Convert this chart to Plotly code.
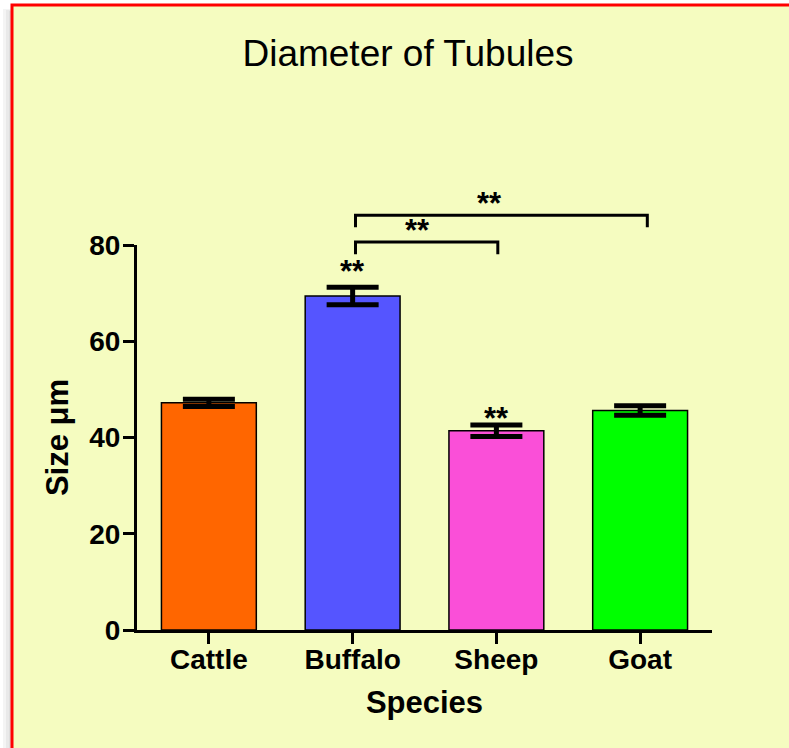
import plotly.graph_objects as go

# ---- data ----
species = ["Cattle", "Buffalo", "Sheep", "Goat"]
size_um = [47.2, 69.4, 41.4, 45.6]
sem = [0.75, 1.8, 1.2, 1.0]
bar_colors = ["#FF6600", "#5555FF", "#FA4FD8", "#00FF00"]
y_ticks = [0, 20, 40, 60, 80]

# significance marks: bars marked vs. control (index, label level) and brackets (a, b, height)
star_label = "**"
star_bars = [(1, 72.9), (2, 42.4)]
brackets = [(1, 2, 80.6), (1, 3, 86.2)]

# ---- layout geometry (pixels) ----
W, H = 789, 748
L, R, T, B = 137, 77, 245, 118
YMAX = 80
plot_w = W - L - R
plot_h = H - T - B
FONT = "Arial, Liberation Sans, sans-serif"
NCAT = len(species)

def px_x(p):
    return (p - L) / plot_w

def px_y(p):
    return (H - B - p) / plot_h

def dx(c):
    return (c + 0.5) / NCAT

def dy(v):
    return v / YMAX

fig = go.Figure()
fig.add_trace(go.Bar(
    x=species, y=size_um,
    marker=dict(color=bar_colors, line=dict(color="black", width=1.5)),
    width=0.66,
    error_y=dict(type="data", array=sem, visible=True, color="black",
                 thickness=5, width=26),
    cliponaxis=False,
))

shapes = []
# background panel with red border
for i, g in enumerate(["#f4f4f4", "#e9e9e9", "#dedede"]):
    shapes.append(dict(type="rect", xref="paper", yref="paper", layer="below",
                       x0=px_x(3 + 3 * i), x1=px_x(12), y0=px_y(H + 20), y1=px_y(9 + i),
                       line=dict(width=0), fillcolor=g))
shapes.append(dict(type="rect", xref="paper", yref="paper", layer="below",
                   x0=px_x(12), x1=px_x(W + 20), y0=px_y(H + 20), y1=px_y(5),
                   line=dict(color="#FF0000", width=3), fillcolor="#F5FCC0"))

# brackets
offs = {1: 0.02, 2: 0.01, 3: 0.05}
drop = 2.5
for a, b, h in brackets:
    xa = dx(a + offs[a])
    xb = dx(b + offs[b])
    shapes.append(dict(type="path", xref="paper", yref="paper",
                       path=f"M {xa},{dy(h - drop)} L {xa},{dy(h)} L {xb},{dy(h)} L {xb},{dy(h - drop)}",
                       line=dict(color="black", width=3)))

STAR_FONT = dict(family=FONT, size=31, color="black", weight="bold")
annotations = []
for i, lvl in star_bars:
    annotations.append(dict(x=dx(i), y=dy(lvl), xref="paper", yref="paper",
                            text=star_label, showarrow=False, yanchor="bottom", yshift=-12,
                            font=STAR_FONT))
for a, b, h in brackets:
    annotations.append(dict(x=dx((a + b) / 2 - 0.05), y=dy(h + 0.8), xref="paper", yref="paper",
                            text=star_label, showarrow=False, yanchor="bottom", yshift=-12,
                            font=STAR_FONT))

fig.update_layout(
    width=W, height=H,
    margin=dict(l=L, r=R, t=T, b=B, pad=0),
    paper_bgcolor="white",
    plot_bgcolor="rgba(0,0,0,0)",
    showlegend=False,
    shapes=shapes,
    annotations=annotations,
    title=dict(text="Diameter of Tubules", x=408 / W, xanchor="center",
               y=1 - 53 / H, yanchor="middle", yref="container", xref="container",
               font=dict(family=FONT, size=37, color="black")),
    xaxis=dict(range=[-0.5, 3.5], showline=True, linecolor="black", linewidth=3,
               ticks="outside", ticklen=11, tickwidth=3, tickcolor="black",
               ticklabelstandoff=-9,
               showgrid=False, zeroline=False,
               tickfont=dict(family=FONT, size=28, color="black", weight="bold"),
               title=dict(text="Species", standoff=18,
                          font=dict(family=FONT, size=31, color="black", weight="bold"))),
    yaxis=dict(range=[0, YMAX], tickvals=y_ticks, showline=True, linecolor="black", linewidth=3,
               ticks="outside", ticklen=11, tickwidth=3, tickcolor="black",
               ticklabelstandoff=-3,
               showgrid=False, zeroline=False,
               tickfont=dict(family=FONT, size=28, color="black", weight="bold"),
               title=dict(text="Size μm", standoff=12,
                          font=dict(family=FONT, size=31, color="black", weight="bold"))),
)

fig.write_html("out.html", config={"displayModeBar": False},
               post_script="document.body.style.margin='0px';document.body.style.overflow='hidden';")
